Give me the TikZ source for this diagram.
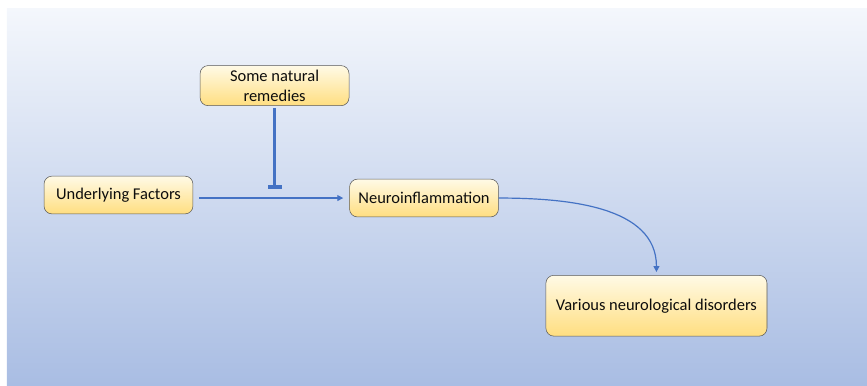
\documentclass[tikz,border=0pt]{standalone}
\usepackage{fontspec}
\setmainfont{Carlito}
\usepackage{xcolor}
\usetikzlibrary{arrows.meta, positioning, calc}
\definecolor{sky-top}{HTML}{F4F7FC}
\definecolor{sky-bottom}{HTML}{A9BDE3}
\definecolor{note-top}{HTML}{FFFAE6}
\definecolor{note-bottom}{HTML}{FFDE80}
\definecolor{link-blue}{HTML}{4472C4}

\begin{document}
\begin{tikzpicture}[
    factor/.style={draw=black!65, rounded corners=6pt, top color=note-top, bottom color=note-bottom, minimum width=3.94cm, minimum height=1cm, align=center, text=black!95, font=\fontsize{12.4}{14.8}\selectfont},
    flow/.style={draw=link-blue, line width=0.9pt, -{Triangle[length=4.5pt, width=4.5pt]}},
    inhibit/.style={draw=link-blue, line width=2.3pt, -{Bar[width=10.5pt, line width=3pt]}}
]
    \useasboundingbox (0,0) rectangle (22.94,-10.19);
    \shade[top color=sky-top, bottom color=sky-bottom] (0.185,-0.212) rectangle (22.94,-10.19);

    \node (underlying) [factor] at (3.135,-5.16) {Underlying Factors};
    \node (neuro) [factor, right=4.13cm of underlying, yshift=-0.08cm] {Neuroinflammation};
    \node (remedies) [factor, above=1.85cm of underlying, xshift=4.13cm] {Some natural\\remedies};
    \node (disorders) [factor, below=1.53cm of neuro, xshift=6.15cm, minimum width=5.85cm, minimum height=1.61cm] {Various neurological disorders};

    \coordinate (block) at ([yshift=0.24cm]neuro.west -| remedies.south);

    \draw [flow, shorten <=0.16cm, shorten >=0.16cm] (underlying.east |- neuro.west) -- (neuro.west);
    \draw [inhibit, shorten <=0.05cm] (remedies.south) -- (block);
    \draw [flow, shorten >=0.08cm] (neuro.east) to[out=0, in=90] (disorders.north);
\end{tikzpicture}
\end{document}
